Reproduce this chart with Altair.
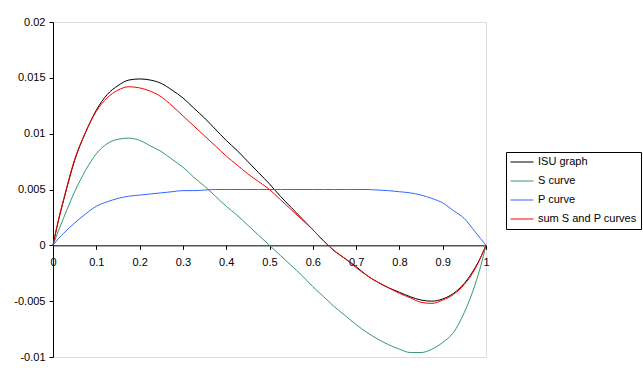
import altair as alt
import pandas as pd

# ---- data ----
x_vals = [0, 0.0125, 0.025, 0.05, 0.075, 0.1, 0.125, 0.15, 0.175, 0.2, 0.225, 0.25,
          0.275, 0.3, 0.325, 0.35, 0.375, 0.4, 0.425, 0.45, 0.475, 0.5, 0.525, 0.55,
          0.575, 0.6, 0.625, 0.65, 0.675, 0.7, 0.725, 0.75, 0.775, 0.8, 0.825, 0.85,
          0.875, 0.9, 0.925, 0.95, 0.975, 0.9875, 1]

isu_graph = [0, 0.0022, 0.0041, 0.0076, 0.0101, 0.0121, 0.0135, 0.0143, 0.0148, 0.0149,
             0.0148, 0.0145, 0.0139, 0.0132, 0.0123, 0.0114, 0.0104, 0.0094, 0.0085,
             0.0075, 0.0065, 0.0055, 0.0044, 0.0034, 0.0024, 0.0014, 0.0004, -0.0005,
             -0.0012, -0.0019, -0.0027, -0.0033, -0.0038, -0.0042, -0.0046, -0.0049,
             -0.0050, -0.0048, -0.0043, -0.0034, -0.0020, -0.0011, 0]

s_curve = [0, 0.0013, 0.0025, 0.0048, 0.0067, 0.0082, 0.0091, 0.0095, 0.0096, 0.0094,
           0.0089, 0.0084, 0.0077, 0.0070, 0.0061, 0.0053, 0.0044, 0.0035, 0.0027,
           0.0018, 0.0009, 0, -0.0009, -0.0018, -0.0027, -0.0037, -0.0046, -0.0055,
           -0.0063, -0.0071, -0.0078, -0.0084, -0.0089, -0.0093, -0.0096, -0.0096,
           -0.0093, -0.0087, -0.0078, -0.0060, -0.0035, -0.0019, 0]

p_curve = [0, 0.0006, 0.0011, 0.0020, 0.0028, 0.0035, 0.0039, 0.0042, 0.0044, 0.0045,
           0.0046, 0.0047, 0.0048, 0.0049, 0.0049, 0.00495, 0.0050, 0.0050, 0.0050,
           0.0050, 0.0050, 0.0050, 0.0050, 0.0050, 0.0050, 0.0050, 0.0050, 0.0050,
           0.0050, 0.0050, 0.0050, 0.00495, 0.0049, 0.0048, 0.0047, 0.0045, 0.0042,
           0.0038, 0.0031, 0.0024, 0.0012, 0.0006, 0]

sum_s_p = [0, 0.0023, 0.0042, 0.0077, 0.0101, 0.0120, 0.0132, 0.0139, 0.0142, 0.0141,
           0.0138, 0.0133, 0.0125, 0.0116, 0.0107, 0.0098, 0.0089, 0.0080, 0.0072,
           0.0064, 0.0057, 0.0050, 0.0041, 0.0032, 0.0023, 0.0014, 0.0004, -0.0005,
           -0.0012, -0.0020, -0.0027, -0.0033, -0.0038, -0.0043, -0.0047, -0.0051,
           -0.0052, -0.0049, -0.0044, -0.0035, -0.0021, -0.0011, 0]

series_names = ["ISU graph", "S curve", "P curve", "sum S and P curves"]
series_colors = ["#000000", "#339966", "#3366FF", "#FF0000"]
x_ticks = [0, 0.1, 0.2, 0.3, 0.4, 0.5, 0.6, 0.7, 0.8, 0.9, 1]
y_ticks = [-0.01, -0.005, 0, 0.005, 0.01, 0.015, 0.02]

rows = []
for name, vals in zip(series_names, [isu_graph, s_curve, p_curve, sum_s_p]):
    for i, (xv, yv) in enumerate(zip(x_vals, vals)):
        rows.append({"series": name, "x": xv, "y": yv, "i": i})
df = pd.DataFrame(rows)

FONT = "Liberation Sans"

chart = alt.Chart(df).mark_line(strokeWidth=1, interpolate="monotone").encode(
    x=alt.X(
        "x:Q",
        scale=alt.Scale(domain=[0, 1], nice=False, zero=False),
        axis=alt.Axis(
            values=x_ticks, title=None, grid=False, offset=-111.67,
            domainColor="#000000", tickColor="#000000", tickSize=4,
            labelPadding=7, labelFlush=False, labelOverlap=False,
            labelExpr="toString(round(datum.value*10)/10)",
            labelFont=FONT, labelFontSize=11, labelColor="#000000",
        ),
    ),
    y=alt.Y(
        "y:Q",
        scale=alt.Scale(domain=[-0.01, 0.02], nice=False, zero=False),
        axis=alt.Axis(
            values=y_ticks, title=None, grid=False,
            domainColor="#000000", tickColor="#000000", tickSize=4,
            labelPadding=4, labelOverlap=False,
            labelExpr="toString(round(datum.value*1000)/1000)",
            labelFont=FONT, labelFontSize=11, labelColor="#000000",
        ),
    ),
    color=alt.Color(
        "series:N",
        scale=alt.Scale(domain=series_names, range=series_colors),
        sort=series_names,
        legend=alt.Legend(
            title=None, orient="none", legendX=453, legendY=130,
            strokeColor="#000000", fillColor="#FFFFFF", padding=4,
            symbolType="stroke", symbolSize=529, symbolStrokeWidth=1,
            clipHeight=12, rowPadding=7, labelOffset=4,
            labelFont=FONT, labelFontSize=11, labelColor="#000000",
        ),
    ),
    order=alt.Order("i:Q"),
).properties(
    width=433,
    height=335,
    autosize="none",
    padding={"left": 53, "top": 22, "right": 157, "bottom": 19},
).configure_view(
    stroke="#808080", strokeWidth=1
).configure(background="#FFFFFF")

chart.save("out.html", embed_options={"renderer": "svg", "actions": False})
